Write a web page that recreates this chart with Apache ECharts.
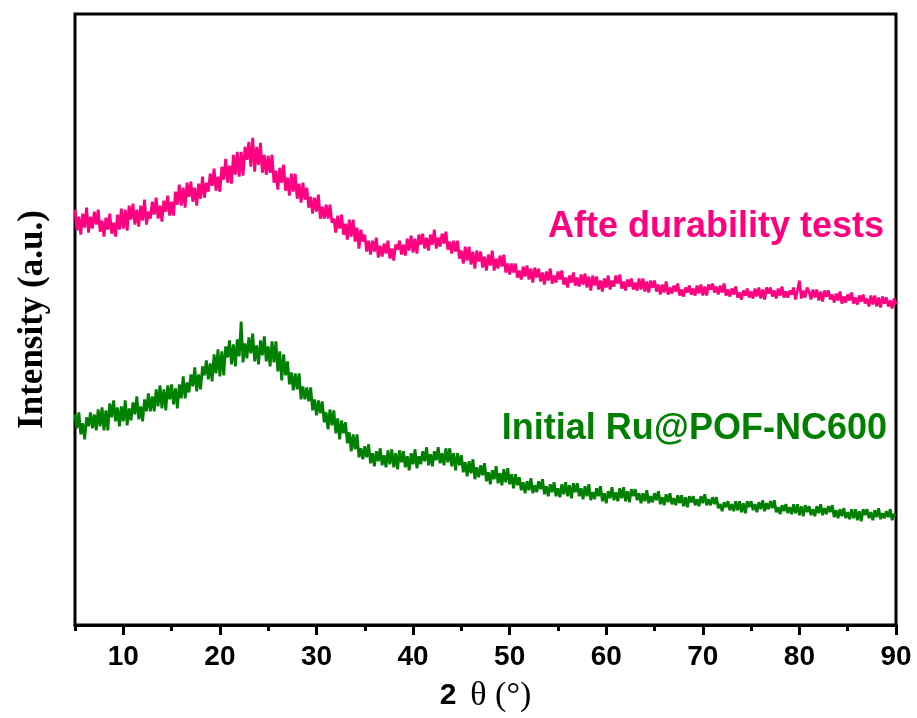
<!DOCTYPE html>
<html>
<head>
<meta charset="utf-8">
<title>XRD patterns</title>
<script src="https://cdn.jsdelivr.net/npm/echarts@6/dist/echarts.min.js"></script>
<style>
  html, body { margin: 0; padding: 0; background: #ffffff; }
  #chart { width: 917px; height: 718px; }
</style>
</head>
<body>
<div id="chart"></div>
<script>
// 2θ scan: 5° to 90°, step 0.2°
const twoThetaStart = 5;
const twoThetaStep = 0.2;

// Intensity (a.u.) after the durability tests, offset for stacking
const afterDurability = [
  416,395,409,391,412, 398,418,393,409,397, 414,401,416,394,405, 389,408,396,412,392,
  403,389,411,396,417, 397,416,395,420,406, 422,401,416,399,420, 405,426,401,414,407,
  424,411,428,407,420, 404,425,414,430,410, 424,410,434,421,441, 420,438,418,443,429,
  444,424,438,420,442, 427,449,428,443,434, 452,440,457,435,449, 434,459,446,467,443,
  460,442,471,451,474, 449,474,450,479,466, 484,459,488,454,479, 461,483,453,471,451,
  470,453,471,443,455, 436,458,443,461,435, 448,430,452,434,452, 427,442,423,443,426,
  438,418,429,412,428, 414,431,407,419,407, 421,407,421,403,407, 393,410,397,411,391,
  402,386,406,389,406, 384,398,377,396,384, 391,374,385,371,385, 374,388,368,380,369,
  382,372,385,367,377, 365,381,376,385,371, 381,370,387,375,390, 373,387,372,391,381,
  392,377,388,375,391, 381,396,377,388,379, 392,382,394,376,384, 372,385,374,385,367,
  375,362,379,365,379, 361,374,357,375,364, 374,358,369,355,371, 360,375,355,367,357,
  370,359,371,353,362, 351,362,353,362,348, 355,346,359,349,360, 346,357,343,358,348,
  357,344,353,341,354, 345,357,342,350,343, 354,346,355,341,348, 338,350,343,353,340,
  348,339,351,341,352, 338,349,335,350,340, 349,336,345,334,347, 338,350,336,345,339,
  350,342,351,337,344, 335,346,339,347,336, 343,335,347,336,347, 334,344,333,345,338,
  345,334,341,331,341, 333,344,331,338,332, 340,334,342,330,336, 329,338,333,340,331,
  337,330,340,332,341, 330,339,330,341,336, 342,333,339,331,340, 333,342,330,336,329,
  337,331,339,328,333, 326,335,330,337,328, 334,327,337,329,338, 327,336,326,338,332,
  338,329,335,327,337, 330,339,328,334,328, 335,331,338,326,335, 345,327,335,328,338,
  334,326,336,328,336, 325,334,324,335,329, 335,326,331,323,332, 325,334,322,329,323,
  331,325,333,322,328, 321,330,324,331,322, 327,319,330,321,330, 319,328,318,329,322,
  328,319,325,317,327,
  321
];

// Intensity (a.u.) of the initial Ru@POF-NC600
const initialSample = [
  211,197,213,191,202, 186,208,199,213,197, 211,195,216,199,218, 195,215,195,222,208,
  225,204,218,199,219, 204,225,200,217,205, 223,211,229,206,219, 204,226,214,232,214,
  229,214,236,219,240, 217,236,215,240,226, 241,221,237,217,241, 227,249,227,243,233,
  251,239,258,234,251, 236,259,250,265,246, 262,244,271,252,276, 249,274,250,279,268,
  285,261,281,259,286, 269,304,263,282,267, 288,272,292,264,280, 261,285,270,289,264,
  279,259,284,263,284, 254,274,245,271,250, 264,241,253,235,252, 236,252,226,239,226,
  238,224,238,215,226, 210,225,212,224,203, 213,196,216,200,215, 192,207,186,205,192,
  203,182,193,174,191, 176,191,168,177,166, 179,168,181,162,172, 159,174,164,177,160,
  170,158,175,161,176, 158,172,156,175,163, 174,158,169,155,172, 161,176,157,169,161,
  174,164,178,160,171, 159,174,165,178,162, 172,160,177,163,177, 159,172,155,172,160,
  170,153,163,149,164, 152,166,146,158,148, 160,150,162,144,153, 141,155,146,159,142,
  152,140,156,143,157, 141,151,137,151,140, 148,135,143,132,144, 135,147,132,140,133,
  144,136,146,131,139, 129,141,133,143,129, 137,128,141,131,143, 129,140,127,142,133,
  142,129,137,126,139, 129,141,125,133,126, 137,129,139,124,132, 122,134,127,138,125,
  133,124,137,127,138, 124,134,123,136,129, 136,125,132,122,132, 124,135,122,129,123,
  132,125,134,121,128, 120,131,123,132,121, 127,120,130,122,130, 119,128,118,129,123,
  129,120,126,119,129, 122,131,120,126,120, 128,121,128,117,121, 114,123,118,124,115,
  121,114,124,115,124, 113,122,112,124,118, 124,115,121,113,123, 116,125,114,122,116,
  124,117,125,113,118, 111,120,114,121,112, 118,111,121,112,121, 110,119,109,120,113,
  119,110,116,109,119, 112,121,110,117,111, 119,113,120,108,115, 107,116,109,117,107,
  113,106,116,107,116, 105,114,104,116,110, 116,107,113,105,115, 108,117,106,112,107,
  114,108,116,105,111,
  110
];

const seriesNames = ['Afte durability tests', 'Initial Ru@POF-NC600'];
const seriesColors = ['#FF0080', '#008000'];

// Axis ticks and labels
const xMajorTicks = [10, 20, 30, 40, 50, 60, 70, 80, 90];
const xMinorTicks = [5, 15, 25, 35, 45, 55, 65, 75, 85];

function toPairs(values) {
  return values.map((v, i) => [+(twoThetaStart + i * twoThetaStep).toFixed(1), v]);
}

const chart = echarts.init(document.getElementById('chart'), null, { renderer: 'canvas' });

const option = {
  animation: false,
  backgroundColor: '#ffffff',
  grid: {
    left: 75, right: 21, top: 14, bottom: 93,
    show: true,
    borderColor: '#000',
    borderWidth: 3,
    backgroundColor: 'transparent'
  },
  xAxis: [
    {
      type: 'value',
      min: 5, max: 90,
      position: 'bottom',
      name: '{a|2}{b|θ (°)}',
      nameLocation: 'middle',
      nameGap: 54,
      nameTextStyle: {
        rich: {
          a: { fontFamily: 'Liberation Sans', fontWeight: 'bold', fontSize: 30, color: '#000', padding: [0, 14, 0, 0] },
          b: { fontFamily: 'Liberation Serif', fontSize: 34, color: '#000' }
        }
      },
      axisLine: { show: true, lineStyle: { color: '#000', width: 3 } },
      axisTick: {
        show: true, inside: false, length: 10,
        customValues: xMajorTicks,
        lineStyle: { color: '#000', width: 3 }
      },
      axisLabel: {
        show: true,
        customValues: xMajorTicks,
        margin: 18,
        fontFamily: 'Liberation Sans', fontWeight: 'bold', fontSize: 28, color: '#000'
      },
      splitLine: { show: false }
    },
    {
      type: 'value',
      min: 5, max: 90,
      position: 'bottom',
      axisLine: { show: false },
      axisTick: {
        show: true, inside: false, length: 6,
        customValues: xMinorTicks,
        lineStyle: { color: '#000', width: 3 }
      },
      axisLabel: { show: false },
      splitLine: { show: false }
    }
  ],
  yAxis: {
    type: 'value',
    min: 0, max: 612,
    name: 'Intensity (a.u.)',
    nameLocation: 'middle',
    nameGap: 25,
    nameTextStyle: {
      fontFamily: 'Liberation Serif', fontWeight: 'bold', fontSize: 35, color: '#000'
    },
    axisLine: { show: false },
    axisTick: { show: false },
    axisLabel: { show: false },
    splitLine: { show: false }
  },
  series: [
    {
      name: seriesNames[0],
      type: 'line',
      data: toPairs(afterDurability),
      showSymbol: false,
      sampling: null,
      lineStyle: { color: seriesColors[0], width: 2.8 },
      itemStyle: { color: seriesColors[0] }
    },
    {
      name: seriesNames[1],
      type: 'line',
      data: toPairs(initialSample),
      showSymbol: false,
      sampling: null,
      lineStyle: { color: seriesColors[1], width: 2.8 },
      itemStyle: { color: seriesColors[1] }
    }
  ],
  graphic: [
    {
      type: 'text',
      right: 33, top: 209,
      style: {
        text: seriesNames[0],
        fill: seriesColors[0],
        font: 'bold 36px "Liberation Sans", Arial, sans-serif'
      }
    },
    {
      type: 'text',
      right: 30, top: 411,
      style: {
        text: seriesNames[1],
        fill: seriesColors[1],
        font: 'bold 36px "Liberation Sans", Arial, sans-serif'
      }
    }
  ]
};

chart.setOption(option);
</script>
</body>
</html>
